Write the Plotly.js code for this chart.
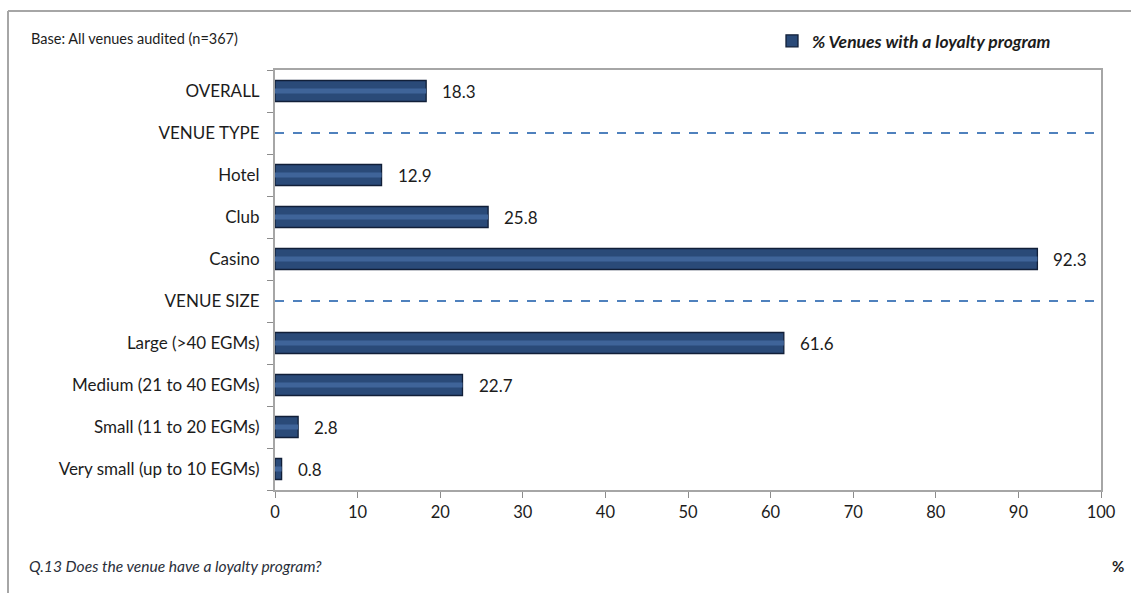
<!DOCTYPE html>
<html>
<head>
<meta charset="utf-8">
<script src="https://cdn.plot.ly/plotly-3.0.1.min.js"></script>
<style>
  html, body { margin: 0; padding: 0; background: #ffffff; }
  #chart { width: 1131px; height: 593px; }
</style>
</head>
<body>
<div id="chart"></div>
<script>
// ---- data ----
const categories = ["OVERALL", "VENUE TYPE", "Hotel", "Club", "Casino", "VENUE SIZE",
  "Large (>40 EGMs)", "Medium (21 to 40 EGMs)", "Small (11 to 20 EGMs)", "Very small (up to 10 EGMs)"];
const barCategories = ["OVERALL", "Hotel", "Club", "Casino",
  "Large (>40 EGMs)", "Medium (21 to 40 EGMs)", "Small (11 to 20 EGMs)", "Very small (up to 10 EGMs)"];
const loyaltyPct = [18.3, 12.9, 25.8, 92.3, 61.6, 22.7, 2.8, 0.8];
const sectionHeaders = ["VENUE TYPE", "VENUE SIZE"];
const xTicks = [0, 10, 20, 30, 40, 50, 60, 70, 80, 90, 100];
const seriesName = "% Venues with a loyalty program";
const baseNote = "Base: All venues audited (n=367)";
const questionNote = "Q.13 Does the venue have a loyalty program?";
const unitLabel = "%";

// ---- layout geometry ----
const W = 1131, H = 593;
const M = {l: 275, r: 30, t: 70, b: 103};
const PW = W - M.l - M.r, PH = H - M.t - M.b;
const px = x => (x - M.l) / PW;
const py = y => (H - M.b - y) / PH;
const FONT = "Lato, 'Open Sans', sans-serif";
const TXT = "#1c1c1c";

const traces = [];
// main bars
traces.push({
  type: "bar", orientation: "h",
  x: loyaltyPct, y: barCategories,
  name: seriesName,
  width: 0.5,
  marker: {color: "#2a4a78", line: {color: "#111f38", width: 1.3}},
  hoverinfo: "x+y",
  showlegend: true
});
// highlight band (bevel effect)
traces.push({
  type: "bar", orientation: "h",
  x: loyaltyPct, y: barCategories,
  width: 0.12,
  marker: {color: "#3f6499", line: {width: 0}},
  hoverinfo: "skip",
  showlegend: false
});
// dashed section separators
sectionHeaders.forEach(h => {
  traces.push({
    type: "scatter", mode: "lines",
    x: [xTicks[0], xTicks[xTicks.length - 1]], y: [h, h],
    line: {color: "#4f81bd", width: 2, dash: "dash"},
    hoverinfo: "skip", showlegend: false
  });
});

const annotations = barCategories.map((c, i) => ({
  x: loyaltyPct[i], y: c, xref: "x", yref: "y",
  text: loyaltyPct[i].toFixed(1),
  xanchor: "left", yanchor: "middle", xshift: 14, showarrow: false,
  font: {family: FONT, size: 17, color: TXT}
}));
annotations.push({
  xref: "paper", yref: "paper", x: px(29), y: py(38), xanchor: "left", yanchor: "middle",
  text: baseNote, showarrow: false,
  font: {family: FONT, size: 14.5, color: TXT}
});
annotations.push({
  xref: "paper", yref: "paper", x: px(27), y: py(566), xanchor: "left", yanchor: "middle",
  text: "<i>" + questionNote + "</i>", showarrow: false,
  font: {family: FONT, size: 15.6, color: "#2a2f3a"}
});
annotations.push({
  xref: "paper", yref: "paper", x: px(1118), y: py(566), xanchor: "center", yanchor: "middle",
  text: "<b>" + unitLabel + "</b>", showarrow: false,
  font: {family: FONT, size: 15, color: TXT}
});

const shapes = [
  {type: "line", xref: "paper", yref: "paper", x0: px(8), x1: px(1131), y0: py(11), y1: py(11),
   line: {color: "#a6a6a6", width: 2}},
  {type: "line", xref: "paper", yref: "paper", x0: px(8), x1: px(8), y0: py(11), y1: py(593),
   line: {color: "#a6a6a6", width: 2}}
];

const layout = {
  width: W, height: H,
  margin: M,
  paper_bgcolor: "#ffffff", plot_bgcolor: "#ffffff",
  barmode: "overlay",
  font: {family: FONT, size: 16, color: TXT},
  showlegend: true,
  legend: {
    x: px(772), y: py(41), xanchor: "left", yanchor: "middle",
    bgcolor: "rgba(0,0,0,0)",
    font: {family: FONT, size: 17.5, color: TXT, weight: "bold", style: "italic"},
    itemwidth: 30, traceorder: "normal"
  },
  xaxis: {
    range: [xTicks[0], xTicks[xTicks.length - 1]],
    tickvals: xTicks, ticktext: xTicks.map(String),
    ticks: "outside", ticklen: 6, tickcolor: "#8c8c8c", tickwidth: 1,
    showline: true, linecolor: "#a6a6a6", linewidth: 2, mirror: true,
    showgrid: false, zeroline: false,
    tickfont: {family: FONT, size: 16.5, color: TXT}
  },
  yaxis: {
    type: "category", categoryorder: "array", categoryarray: categories,
    range: [categories.length - 0.5, -0.5],
    tickvals: categories,
    tickson: "boundaries",
    ticks: "outside", ticklen: 6, tickcolor: "#8c8c8c", tickwidth: 1,
    showline: true, linecolor: "#a6a6a6", linewidth: 2, mirror: true,
    showgrid: false, zeroline: false,
    ticklabelstandoff: 10,
    tickfont: {family: FONT, size: 17, color: TXT}
  },
  annotations: annotations,
  shapes: shapes
};

Plotly.newPlot("chart", traces, layout, {displayModeBar: false, staticPlot: true});
</script>
</body>
</html>
